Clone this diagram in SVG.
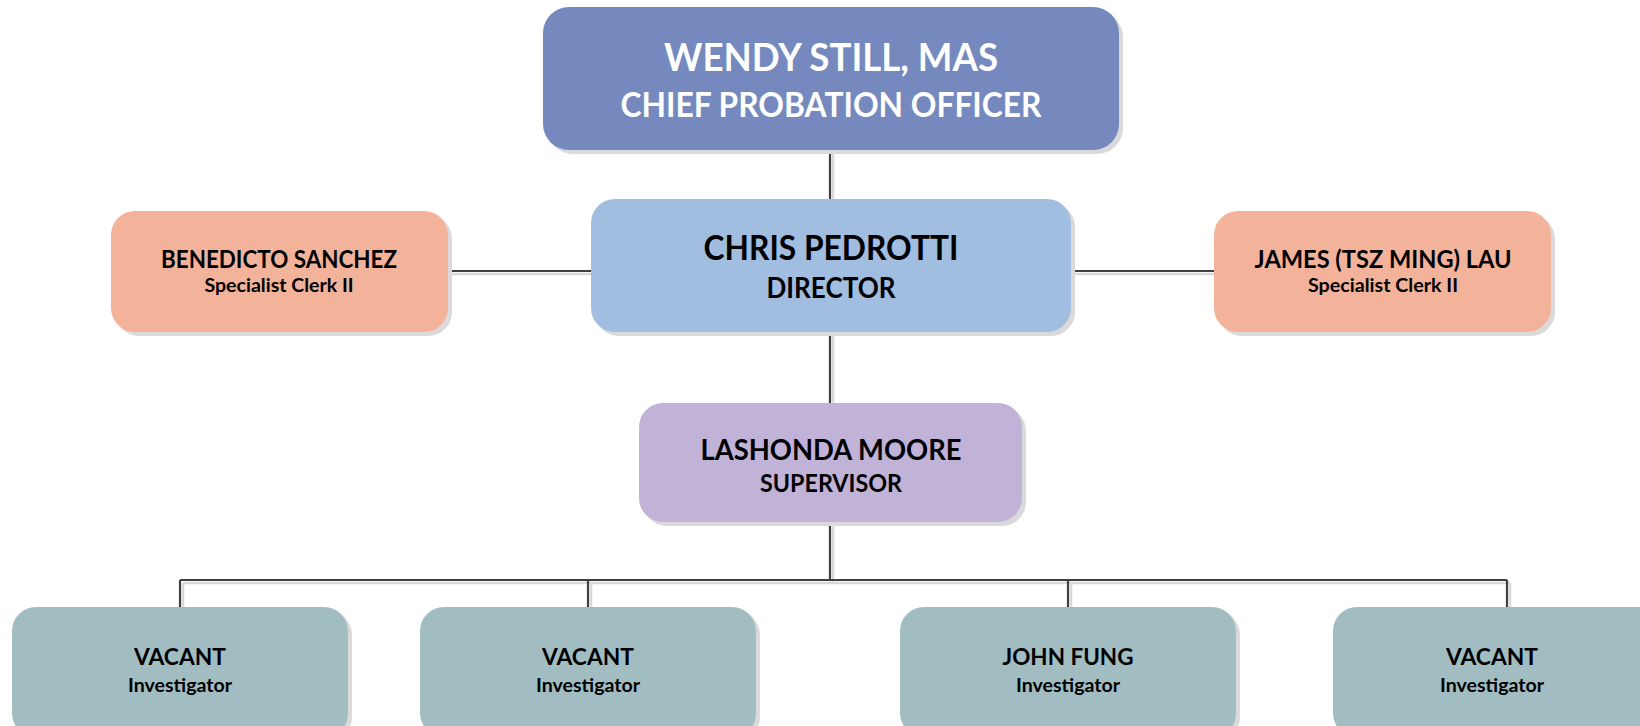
<svg xmlns="http://www.w3.org/2000/svg" width="1640" height="726" viewBox="0 0 1640 726">
<style>
.sh{fill:#DADADA}
.t{font-family:Lato,"Liberation Sans",sans-serif;font-weight:bold;text-anchor:middle;fill:#000}
.w{fill:#fff}
.c{stroke:#3F3F3F;stroke-width:2.2;fill:none}
.cs{stroke:#D9D9D9;stroke-width:2.5;fill:none}
</style>
<rect width="1640" height="726" fill="#fff"/>
<g id="connectors">
<path class="cs" d="M833 152V201M450 274H593M1073 274H1216M833 334V405M833 524V583M183 583H1510M183 583V609M591 583V609M1071 583V609M1510 583V609"/>
<path class="c" d="M830 150V199M448 271H591M1071 271H1214M830 332V403M830 522V580M180 580H1507M180 580V607M588 580V607M1068 580V607M1507 580V607"/>
</g>
<g id="chief">
<rect class="sh" x="547" y="11" width="576" height="143" rx="26"/>
<rect x="543" y="7" width="576" height="143" rx="26" fill="#7589BF"/>
<text class="t w" x="831" y="71" font-size="38" textLength="334" lengthAdjust="spacingAndGlyphs">WENDY STILL, MAS</text>
<text class="t w" x="831" y="117" font-size="33.6" textLength="421" lengthAdjust="spacingAndGlyphs">CHIEF PROBATION OFFICER</text>
</g>
<g id="director">
<rect class="sh" x="595" y="203" width="480" height="133" rx="24"/>
<rect x="591" y="199" width="480" height="133" rx="24" fill="#A1BDE0"/>
<text class="t" x="831" y="260" font-size="33.6" textLength="255" lengthAdjust="spacingAndGlyphs">CHRIS PEDROTTI</text>
<text class="t" x="831" y="298" font-size="28" textLength="129" lengthAdjust="spacingAndGlyphs">DIRECTOR</text>
</g>
<g id="clerk-left">
<rect class="sh" x="115" y="215" width="337" height="121" rx="24"/>
<rect x="111" y="211" width="337" height="121" rx="24" fill="#F3B39A"/>
<text class="t" x="279" y="268" font-size="24" textLength="236" lengthAdjust="spacingAndGlyphs">BENEDICTO SANCHEZ</text>
<text class="t" x="279" y="292" font-size="19" textLength="149" lengthAdjust="spacingAndGlyphs">Specialist Clerk II</text>
</g>
<g id="clerk-right">
<rect class="sh" x="1218" y="215" width="337" height="121" rx="24"/>
<rect x="1214" y="211" width="337" height="121" rx="24" fill="#F3B39A"/>
<text class="t" x="1383" y="268" font-size="24" textLength="257" lengthAdjust="spacingAndGlyphs">JAMES (TSZ MING) LAU</text>
<text class="t" x="1383" y="292" font-size="19" textLength="150" lengthAdjust="spacingAndGlyphs">Specialist Clerk II</text>
</g>
<g id="supervisor">
<rect class="sh" x="643" y="407" width="383" height="119" rx="24"/>
<rect x="639" y="403" width="383" height="119" rx="24" fill="#C1B3D8"/>
<text class="t" x="831" y="460" font-size="28.8" textLength="261" lengthAdjust="spacingAndGlyphs">LASHONDA MOORE</text>
<text class="t" x="831" y="492" font-size="24.3" textLength="142" lengthAdjust="spacingAndGlyphs">SUPERVISOR</text>
</g>
<g id="inv1">
<rect class="sh" x="16" y="611" width="336" height="130" rx="24"/>
<rect x="12" y="607" width="336" height="130" rx="24" fill="#A2BDC2"/>
<text class="t" x="180" y="665" font-size="23.4" textLength="92" lengthAdjust="spacingAndGlyphs">VACANT</text>
<text class="t" x="180" y="692" font-size="19" textLength="104" lengthAdjust="spacingAndGlyphs">Investigator</text>
</g>
<g id="inv2">
<rect class="sh" x="424" y="611" width="336" height="130" rx="24"/>
<rect x="420" y="607" width="336" height="130" rx="24" fill="#A2BDC2"/>
<text class="t" x="588" y="665" font-size="23.4" textLength="92" lengthAdjust="spacingAndGlyphs">VACANT</text>
<text class="t" x="588" y="692" font-size="19" textLength="104" lengthAdjust="spacingAndGlyphs">Investigator</text>
</g>
<g id="inv3">
<rect class="sh" x="904" y="611" width="336" height="130" rx="24"/>
<rect x="900" y="607" width="336" height="130" rx="24" fill="#A2BDC2"/>
<text class="t" x="1068" y="665" font-size="23.4" textLength="131" lengthAdjust="spacingAndGlyphs">JOHN FUNG</text>
<text class="t" x="1068" y="692" font-size="19" textLength="104" lengthAdjust="spacingAndGlyphs">Investigator</text>
</g>
<g id="inv4">
<rect class="sh" x="1337" y="611" width="336" height="130" rx="24"/>
<rect x="1333" y="607" width="336" height="130" rx="24" fill="#A2BDC2"/>
<text class="t" x="1492" y="665" font-size="23.4" textLength="92" lengthAdjust="spacingAndGlyphs">VACANT</text>
<text class="t" x="1492" y="692" font-size="19" textLength="104" lengthAdjust="spacingAndGlyphs">Investigator</text>
</g>
</svg>
